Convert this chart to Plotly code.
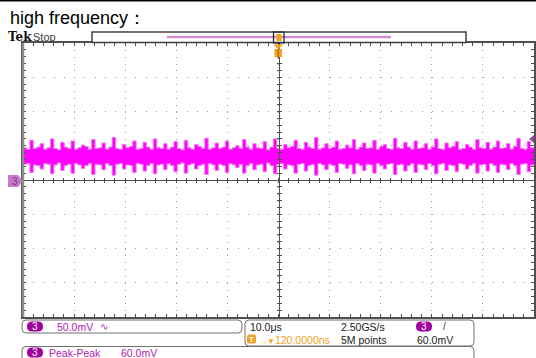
import numpy as np
import plotly.graph_objects as go

W, H = 536, 358

title_text = "high frequency："
ch_scale_mv = 50.0          # mV / div
time_scale_us = 10.0        # us / div
trigger_level_mv = 60.0
peak_peak_mv = 60.0

# upper / lower envelope of the noise band on channel 3 (mV), 150 samples across 100 us
upper_mv = [47,45,58,46,48,53,45,47,60,46,44,55,48,46,57,45,47,51,49,45,
            59,46,47,54,45,48,62,46,45,52,47,49,57,45,46,55,48,45,60,47,
            46,53,45,48,56,46,44,58,47,45,52,49,46,61,45,47,54,46,48,57,
            45,47,50,46,59,48,45,53,47,46,56,44,48,60,46,45,52,47,49,58,
            46,45,55,48,46,62,45,47,53,46,48,57,45,46,51,47,59,45,48,54,
            46,47,58,45,49,52,46,45,61,47,46,55,48,45,57,46,47,53,45,48,
            60,46,45,54,47,49,56,45,46,52,48,45,59,47,46,55,45,48,57,46,
            47,53,45,49,61,46,45,56,47,48]
lower_mv = [23,24,11,22,21,16,24,23,9,22,25,14,21,23,10,24,22,17,21,24,
            8,23,22,15,24,21,7,23,24,16,22,21,11,24,23,13,21,24,9,22,
            23,15,24,21,12,23,25,10,22,24,16,21,23,8,24,22,14,23,21,11,
            24,22,18,23,10,21,24,15,22,23,12,25,21,9,23,24,16,22,21,10,
            23,24,13,21,23,7,24,22,15,23,21,11,24,23,17,22,9,24,21,14,
            23,22,10,24,21,16,23,24,8,22,23,13,21,24,11,23,22,15,24,21,
            9,23,24,14,22,21,12,24,23,16,21,24,10,22,23,13,24,21,11,23,
            22,15,24,21,8,23,24,12,22,21]
t_us = np.linspace(-50, 50, len(upper_mv))

# readout texts
ch_label = "3"
scale_text = "50.0mV"
timebase_text = "10.0μs"
sample_rate_text = "2.50GS/s"
delay_text = "120.0000ns"
record_text = "5M points"
trig_level_text = "60.0mV"
meas_name = "Peak-Peak"
meas_value = "60.0mV"

# ---------------- helpers for pixel -> paper ----------------
def X(p):
    return p / W

def Y(p):
    return 1 - p / H

PL, PR, PT, PB = 23, 534, 43, 317
XC = (PL + PR) / 2
YC = (PT + PB) / 2

fig = go.Figure()

fig.add_trace(go.Scatter(x=t_us, y=upper_mv, mode="lines",
                         line=dict(color="#F27AF2", width=1, shape="hv"),
                         showlegend=False, hoverinfo="skip"))
fig.add_trace(go.Scatter(x=t_us, y=lower_mv, mode="lines",
                         line=dict(color="#F27AF2", width=1, shape="hv"),
                         fill="tonexty", fillcolor="#FF00FF",
                         showlegend=False, hoverinfo="skip"))
# dummy traces to make the centre-cross axes exist
for xa, ya in [("x2", "y"), ("x3", "y"), ("x", "y2"), ("x", "y3")]:
    fig.add_trace(go.Scatter(x=[None], y=[None], xaxis=xa, yaxis=ya,
                             showlegend=False, hoverinfo="skip"))

xr = [-5 * time_scale_us, 5 * time_scale_us]
yr = [-4 * ch_scale_mv, 4 * ch_scale_mv]
xdom = [X(PL), X(PR)]
ydom = [Y(PB), Y(PT)]
div_w = (PR - PL) / 10
div_h = (PB - PT) / 8

axcol = "#505050"
gridcol = "#9A9A9A"

common_x = dict(range=xr, domain=xdom, showticklabels=False, fixedrange=True)
common_y = dict(range=yr, domain=ydom, showticklabels=False, fixedrange=True)

fig.update_layout(
    width=W, height=H, margin=dict(l=0, r=0, t=0, b=0),
    paper_bgcolor="white", plot_bgcolor="white", showlegend=False,
    xaxis=dict(**common_x, dtick=time_scale_us, tick0=0,
               showgrid=True, gridcolor=gridcol, gridwidth=1,
               griddash="1px,%.2fpx" % (div_h / 5 - 1),
               zeroline=False, showline=True, linecolor=axcol, linewidth=1.5,
               mirror="ticks", ticks="inside", ticklen=3, tickcolor=axcol,
               minor=dict(dtick=time_scale_us / 5, ticks="inside", ticklen=3,
                          tickcolor=axcol, showgrid=False)),
    yaxis=dict(**common_y, dtick=ch_scale_mv, tick0=0,
               showgrid=True, gridcolor=gridcol, gridwidth=1,
               griddash="1px,%.2fpx" % (div_w / 5 - 1),
               zeroline=False, showline=True, linecolor=axcol, linewidth=1.5,
               mirror="ticks", ticks="inside", ticklen=3, tickcolor=axcol,
               minor=dict(dtick=ch_scale_mv / 5, ticks="inside", ticklen=3,
                          tickcolor=axcol, showgrid=False)),
    xaxis2=dict(**common_x, overlaying="x", anchor="free", position=Y(YC),
                showgrid=False, zeroline=False, showline=True, linecolor=axcol,
                linewidth=1, ticks="outside", ticklen=2, tickcolor=axcol,
                dtick=time_scale_us / 5, tick0=0),
    xaxis3=dict(**common_x, overlaying="x", anchor="free", position=Y(YC),
                showgrid=False, zeroline=False, showline=False,
                ticks="inside", ticklen=2, tickcolor=axcol,
                dtick=time_scale_us / 5, tick0=0),
    yaxis2=dict(**common_y, overlaying="y", anchor="free", position=X(XC),
                showgrid=False, zeroline=False, showline=True, linecolor=axcol,
                linewidth=1, ticks="outside", ticklen=2, tickcolor=axcol,
                dtick=ch_scale_mv / 5, tick0=0),
    yaxis3=dict(**common_y, overlaying="y", anchor="free", position=X(XC),
                showgrid=False, zeroline=False, showline=False,
                ticks="inside", ticklen=2, tickcolor=axcol,
                dtick=ch_scale_mv / 5, tick0=0),
)

shapes = []
ann = []

def line(x0, y0, x1, y1, color, width):
    shapes.append(dict(type="line", xref="paper", yref="paper",
                       x0=X(x0), y0=Y(y0), x1=X(x1), y1=Y(y1),
                       line=dict(color=color, width=width), layer="above"))

def rect(x0, y0, x1, y1, fill, lc=None, lw=0):
    shapes.append(dict(type="rect", xref="paper", yref="paper",
                       x0=X(x0), y0=Y(y0), x1=X(x1), y1=Y(y1),
                       fillcolor=fill, line=dict(color=lc or fill, width=lw),
                       layer="above"))

def rrect(x0, y0, x1, y1, r, fill="rgba(0,0,0,0)", lc="rgba(0,0,0,0)", lw=1):
    p = (f"M{X(x0 + r)},{Y(y0)} L{X(x1 - r)},{Y(y0)} Q{X(x1)},{Y(y0)} {X(x1)},{Y(y0 + r)} "
         f"L{X(x1)},{Y(y1 - r)} Q{X(x1)},{Y(y1)} {X(x1 - r)},{Y(y1)} "
         f"L{X(x0 + r)},{Y(y1)} Q{X(x0)},{Y(y1)} {X(x0)},{Y(y1 - r)} "
         f"L{X(x0)},{Y(y0 + r)} Q{X(x0)},{Y(y0)} {X(x0 + r)},{Y(y0)} Z")
    shapes.append(dict(type="path", xref="paper", yref="paper", path=p,
                       fillcolor=fill, line=dict(color=lc, width=lw), layer="above"))

def poly(pts, fill, lc=None, lw=0):
    p = "M" + " L".join(f"{X(a)},{Y(b)}" for a, b in pts) + " Z"
    shapes.append(dict(type="path", xref="paper", yref="paper", path=p,
                       fillcolor=fill, line=dict(color=lc or fill, width=lw), layer="above"))

def text(x, y, s, size=10, color="#202020", anchor="left", family="Liberation Sans", bold=False):
    if bold:
        s = "<b>" + s + "</b>"
    ann.append(dict(x=X(x), y=Y(y), xref="paper", yref="paper", text=s,
                    showarrow=False, xanchor=anchor, yanchor="middle",
                    font=dict(size=size, color=color, family=family)))

purple = "#A000A0"
ptext = "#B020B0"
orange = "#F5A020"

# top black rule & title
line(0, 0.8, W, 0.8, "black", 1.6)
text(8, 18, title_text, size=18, color="black")

# Tek Stop
text(6, 37, "Tek", size=12, color="#111111", family="DejaVu Serif", bold=True)
text(31, 36.5, "Stop", size=11, color="#404040")

# record bar
rect(92, 32, 466, 42.5, "white", "#404040", 1.5)
line(167, 37, 391, 37, "#D090D0", 2.5)
# trigger position in record bar
rect(273.5, 32, 284, 43, "rgba(0,0,0,0)", "#202020", 1.2)
rect(276.5, 34, 281.5, 41, orange)
# trigger position marker under the top border
poly([(273, 44.5), (283.5, 44.5), (278.2, 49)], orange)
rect(274.5, 49, 282, 57, orange)
line(278.2, 49, 278.2, 59, "#8A5A00", 1)

# left channel ground marker
poly([(8, 175), (18, 175), (22.5, 181), (18, 187), (8, 187)], "#C878C8")
text(15, 181, ch_label, size=10, color="#7A3A7A", anchor="center")

# right trigger level marker
ylev = PB - (trigger_level_mv - yr[0]) / (yr[1] - yr[0]) * (PB - PT)
poly([(529, ylev), (534, ylev - 4), (534, ylev + 4)], "#A040A0")

# bottom readouts
rrect(22, 320, 242, 333, 4, lc="#707070", lw=1)
rrect(27, 321.5, 43, 331.5, 5, fill=purple)
text(35, 326.8, ch_label, size=10, color="white", anchor="center")
text(55, 326.8, scale_text, size=10.5, color=ptext)
text(98, 326.8, "∿", size=10, color=ptext)

rrect(245, 320, 474, 346, 4, lc="#707070", lw=1)
text(248, 326.8, timebase_text, size=10.5)
text(339, 326.8, sample_rate_text, size=10.5)
rrect(416, 321.5, 432, 331.5, 5, fill=purple)
text(424, 326.8, ch_label, size=10, color="white", anchor="center")
text(441, 326.8, "/", size=10, color="#303030")

rrect(247, 334.5, 256, 343.5, 2, fill=orange)
text(251.5, 339, "T", size=8, color="white", anchor="center", bold=True)
text(256.5, 339.5, '<span style="font-size:8px">→▼</span>' + delay_text,
     size=10.5, color=orange)
text(339, 339.5, record_text, size=10.5)
text(415, 339.5, trig_level_text, size=10.5)

rrect(22, 346.5, 474, 368, 4, lc="#707070", lw=1)
rrect(27, 347.5, 43, 357.5, 5, fill=purple)
text(35, 352.5, ch_label, size=10, color="white", anchor="center")
text(47, 352.5, meas_name, size=10.5, color=ptext)
text(119, 352.5, meas_value, size=10.5, color=ptext)

# left border grey
line(23, PT, 23, PB, "#8C8C8C", 2.5)

fig.update_layout(shapes=shapes, annotations=ann)
fig.write_html("out.html")
